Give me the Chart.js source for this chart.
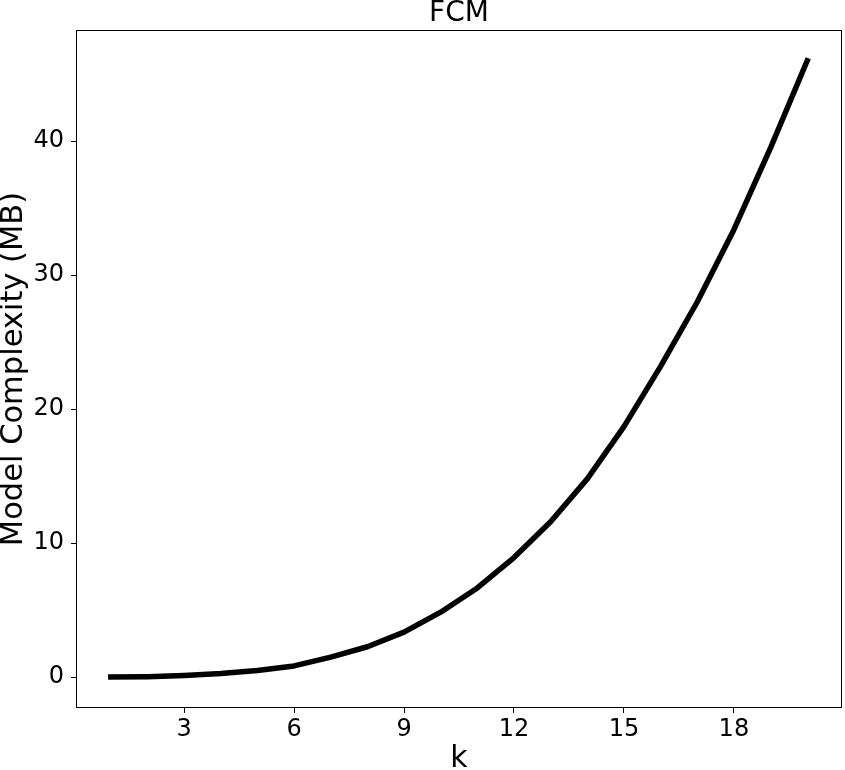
<!DOCTYPE html>
<html>
<head>
<meta charset="utf-8">
<script src="https://cdn.jsdelivr.net/npm/chart.js@4"></script>
<style>
  html, body { margin: 0; padding: 0; background: #fff; }
  #wrap { width: 845px; height: 770px; position: relative; }
</style>
</head>
<body>
<div id="wrap"><canvas id="chart"></canvas></div>
<script>
// values
const kValues = [1, 2, 3, 4, 5, 6, 7, 8, 9, 10, 11, 12, 13, 14, 15, 16, 17, 18, 19, 20];
const complexity = [0.01, 0.04, 0.13, 0.28, 0.5, 0.84, 1.5, 2.27, 3.36, 4.85, 6.66, 8.93, 11.6, 14.8, 18.7, 23.2, 28.0, 33.4, 39.5, 46.0];
const xTicks = [3, 6, 9, 12, 15, 18];
const yTicks = [0, 10, 20, 30, 40];
const titleText = 'FCM';
const xLabel = 'k';
const yLabel = 'Model Complexity (MB)';

const FONT = "'DejaVu Sans', sans-serif";

// title over the plot box plus the full frame (matplotlib style)
const frameAndTitle = {
  id: 'frameAndTitle',
  afterDraw(chart){
    const a = chart.chartArea;
    const ctx = chart.ctx;
    ctx.save();
    ctx.strokeStyle = '#000';
    ctx.lineWidth = 1;
    ctx.strokeRect(Math.round(a.left) + 0.5, Math.round(a.top) + 0.5,
      Math.round(a.right - a.left) - 1, Math.round(a.bottom - a.top) - 1);
    ctx.fillStyle = '#000';
    ctx.font = '28px ' + FONT;
    ctx.textAlign = 'center';
    ctx.textBaseline = 'alphabetic';
    ctx.fillText(titleText, (a.left + a.right) / 2, 21);
    ctx.restore();
  }
};

const data = kValues.map((k, i) => ({ x: k, y: complexity[i] }));

new Chart(document.getElementById('chart'), {
  type: 'line',
  data: {
    datasets: [{
      data: data,
      borderColor: '#000',
      borderWidth: 5.5,
      borderCapStyle: 'square',
      borderJoinStyle: 'round',
      pointRadius: 0,
      tension: 0,
      fill: false
    }]
  },
  options: {
    responsive: true,
    maintainAspectRatio: false,
    devicePixelRatio: 1,
    animation: false,
    layout: { padding: { top: 30, right: 3, left: 0, bottom: 0 } },
    plugins: { legend: { display: false }, tooltip: { enabled: false }, title: { display: false } },
    scales: {
      x: {
        type: 'linear',
        min: 0.05,
        max: 20.95,
        afterBuildTicks(scale){ scale.ticks = xTicks.map(v => ({ value: v })); },
        afterFit(scale){ scale.height = 62; },
        border: { display: false },
        grid: { display: true, drawOnChartArea: false, drawTicks: true, tickLength: 5, color: '#000', lineWidth: 1 },
        ticks: { color: '#000', font: { family: FONT, size: 24 }, padding: 2, maxRotation: 0, autoSkip: false },
        title: { display: true, text: xLabel, color: '#000', font: { family: FONT, size: 30, lineHeight: 1 }, padding: { top: 0, bottom: -4 } }
      },
      y: {
        type: 'linear',
        min: -2.3,
        max: 48.3,
        afterBuildTicks(scale){ scale.ticks = yTicks.map(v => ({ value: v })); },
        afterFit(scale){ scale.width = 76; },
        border: { display: false },
        grid: { display: true, drawOnChartArea: false, drawTicks: true, tickLength: 5, color: '#000', lineWidth: 1 },
        ticks: { color: '#000', font: { family: FONT, size: 24 }, padding: 7, autoSkip: false },
        title: { display: true, text: yLabel, color: '#000', font: { family: FONT, size: 30.5, lineHeight: 1 }, padding: { top: -1, bottom: 0 } }
      }
    }
  },
  plugins: [frameAndTitle]
});
</script>
</body>
</html>
